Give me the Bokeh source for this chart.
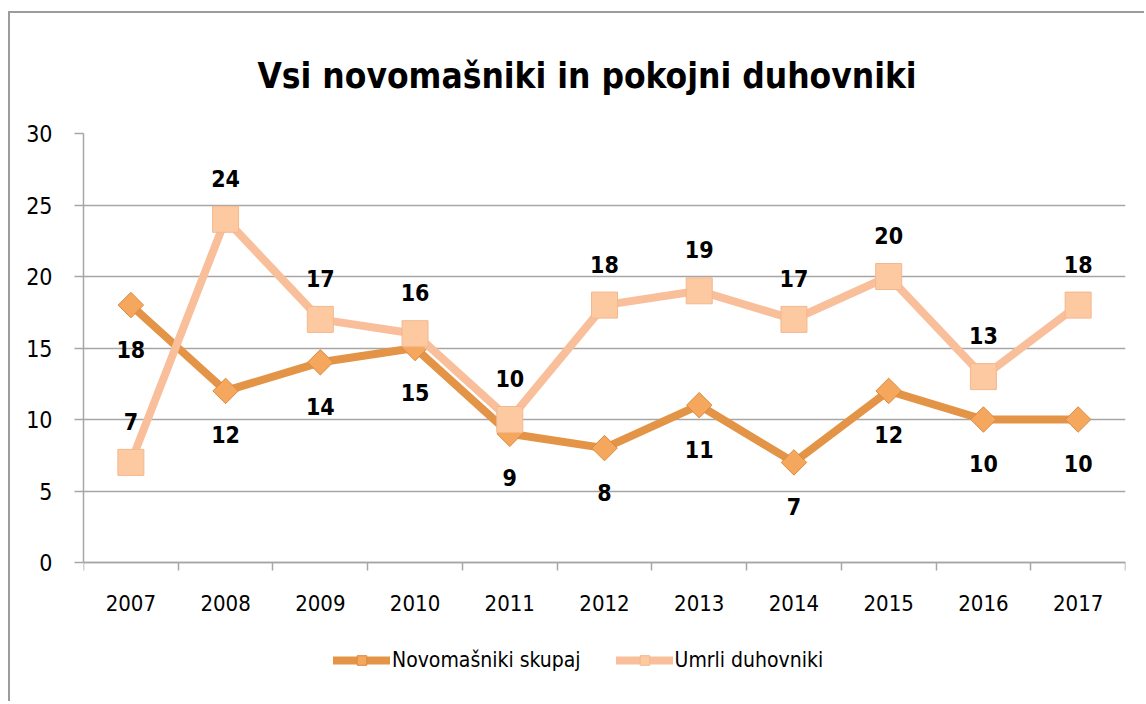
from bokeh.plotting import figure
from bokeh.models import ColumnDataSource, FixedTicker, Legend, LegendItem, Range1d, Title
from bokeh.core.properties import value
from bokeh.embed import file_html
from bokeh.resources import INLINE
import math

years = ["2007", "2008", "2009", "2010", "2011", "2012", "2013", "2014", "2015", "2016", "2017"]
novomasniki = [18, 12, 14, 15, 9, 8, 11, 7, 12, 10, 10]
umrli = [7, 24, 17, 16, 10, 18, 19, 17, 20, 13, 18]
y_ticks = [0, 5, 10, 15, 20, 25, 30]

xs = [i + 0.5 for i in range(len(years))]
src = ColumnDataSource(dict(x=xs, nov=novomasniki, umr=umrli,
                            nov_t=[str(v) for v in novomasniki],
                            umr_t=[str(v) for v in umrli]))

FONT = "'DejaVu Sans Condensed', 'Liberation Sans Narrow', 'Roboto', sans-serif"
GRID = "#a6a6a6"
Y_BOTTOM = -9.72  # extra room below zero for axis labels and legend

p = figure(width=1136, height=690, output_backend="svg", toolbar_location=None,
           x_range=Range1d(0, len(years)), y_range=Range1d(Y_BOTTOM, 30),
           min_border_left=73, min_border_right=21, min_border_top=120, min_border_bottom=2)
p.styles = {"margin-top": "11px", "margin-left": "8px",
            "border-left": "2px solid #9c9c9c", "border-top": "2px solid #9c9c9c"}
p.outline_line_color = None
p.background_fill_color = "white"
p.border_fill_color = "white"

p.title = Title(text="Vsi novomašniki in pokojni duhovniki", align="left",
                text_font=FONT, text_font_size="35px", text_font_style="bold",
                text_color="black", offset=174, standoff=76)

p.yaxis.ticker = FixedTicker(ticks=y_ticks)
p.yaxis.bounds = (0, 30)
p.yaxis.axis_line_color = GRID
p.yaxis.axis_line_width = 1.5
p.yaxis.major_tick_line_color = GRID
p.yaxis.major_tick_line_width = 1.5
p.yaxis.major_tick_out = 9
p.yaxis.major_tick_in = 0
p.yaxis.minor_tick_line_color = None
p.yaxis.major_label_text_font = FONT
p.yaxis.major_label_text_font_size = "23px"
p.yaxis.major_label_text_color = "black"
p.yaxis.major_label_standoff = 22

p.xaxis.fixed_location = 0
p.xaxis.ticker = FixedTicker(ticks=xs, minor_ticks=list(range(len(years) + 1)))
p.xaxis.major_label_overrides = {x: y for x, y in zip(xs, years)}
p.xaxis.axis_line_color = GRID
p.xaxis.axis_line_width = 1.5
p.xaxis.major_tick_line_color = None
p.xaxis.minor_tick_line_color = GRID
p.xaxis.minor_tick_line_width = 1.5
p.xaxis.minor_tick_out = 8
p.xaxis.minor_tick_in = 0
p.xaxis.major_label_text_font = FONT
p.xaxis.major_label_text_font_size = "22px"
p.xaxis.major_label_text_color = "black"
p.xaxis.major_label_standoff = 24

p.xgrid.grid_line_color = None
p.ygrid.ticker = FixedTicker(ticks=y_ticks)
p.ygrid.grid_line_color = GRID
p.ygrid.grid_line_width = 1.5

l1 = p.line("x", "nov", source=src, line_color="#e39447", line_width=8,
            line_join="round", line_cap="round")
m1 = p.scatter("x", "nov", source=src, marker="square", size=18, angle=math.pi / 4,
               fill_color="#f6a75e", line_color="#d98a3e", line_width=1)
l2 = p.line("x", "umr", source=src, line_color="#f8bf9a", line_width=8,
            line_join="round", line_cap="round")
m2 = p.scatter("x", "umr", source=src, marker="square", size=26,
               fill_color="#fdc9a0", line_color="#f3b88f", line_width=1)

p.text("x", "nov", text="nov_t", source=src, y_offset=44, text_align="center",
       text_baseline="middle", text_font=value(FONT), text_font_style="bold",
       text_font_size="23px", text_color="black")
p.text("x", "umr", text="umr_t", source=src, y_offset=-41, text_align="center",
       text_baseline="middle", text_font=value(FONT), text_font_style="bold",
       text_font_size="23px", text_color="black")

legend = Legend(items=[LegendItem(label="Novomašniki skupaj", renderers=[l1, m1]),
                       LegendItem(label="Umrli duhovniki", renderers=[l2, m2])],
                orientation="horizontal", location=(250, 29),
                label_text_font=FONT, label_text_font_size="21px", label_text_color="black",
                glyph_width=57, glyph_height=24, label_standoff=2, spacing=35,
                border_line_color=None, background_fill_alpha=0, margin=0, padding=0)
p.add_layout(legend)

open("out.html", "w").write(file_html(p, INLINE))
